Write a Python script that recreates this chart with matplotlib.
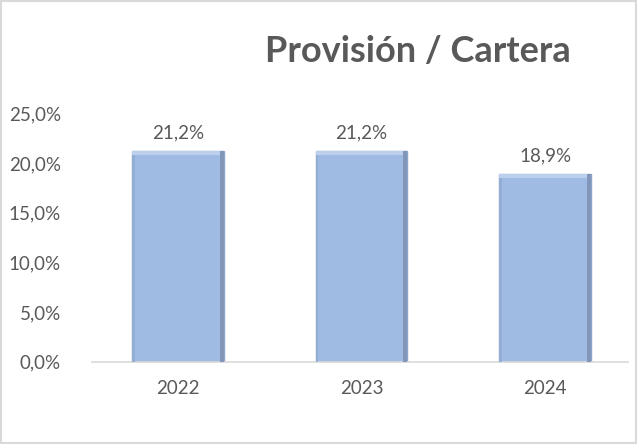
import matplotlib.pyplot as plt
from matplotlib.patches import Rectangle
from matplotlib.ticker import FuncFormatter

years = ['2022', '2023', '2024']
ratio = [21.2, 21.2, 18.9]
yticks = [0, 5, 10, 15, 20, 25]

plt.rcParams['font.family'] = ['Lato', 'DejaVu Sans']
grey = '#595959'

fig = plt.figure(figsize=(6.37, 4.44), dpi=100)
ax = fig.add_axes([0.135, 0.185, 0.865, 0.56])

x = range(len(years))
bars = ax.bar(x, ratio, width=0.5, color='#9fbbe4', edgecolor='#8ca5cb', linewidth=1.0, zorder=2)

# shaded edges on each bar for a bevel look
for b in bars:
    w = b.get_width()
    h = b.get_height()
    ax.add_patch(Rectangle((b.get_x() + w * 0.955, 0), w * 0.045, h,
                           color='#8196b8', zorder=3, linewidth=0))
    ax.add_patch(Rectangle((b.get_x(), 0), w * 0.03, h,
                           color='#93add4', zorder=3, linewidth=0))
    ax.add_patch(Rectangle((b.get_x(), h - 0.45), w * 0.955, 0.45,
                           color='#bcd0ee', zorder=3, linewidth=0))

for xi, v in zip(x, ratio):
    ax.text(xi, v + 1.0, f'{v:.1f}%'.replace('.', ','), ha='center', va='bottom',
            fontsize=13.5, color=grey)

ax.set_xlim(-0.5, 2.5)
ax.set_ylim(0, 25)
ax.set_yticks(yticks)
ax.yaxis.set_major_formatter(FuncFormatter(lambda v, p: f'{v:.1f}%'.replace('.', ',')))
ax.set_xticks(list(x))
ax.set_xticklabels(years)
ax.tick_params(axis='both', length=0, labelsize=13.5, labelcolor=grey)
ax.tick_params(axis='y', pad=18)
ax.tick_params(axis='x', pad=13)

for s in ['top', 'right', 'left']:
    ax.spines[s].set_visible(False)
ax.spines['bottom'].set_color('#d9d9d9')
ax.spines['bottom'].set_linewidth(1.2)
ax.spines['bottom'].set_bounds(-0.47, 2.45)

fig.text(0.656, 0.885, 'Provisión / Cartera', ha='center', va='center',
         fontsize=26, fontweight='bold', color=grey)

# outer chart border
fig.add_artist(Rectangle((0.002, 0.002), 0.996, 0.996, transform=fig.transFigure,
                         fill=False, edgecolor='#d9d9d9', linewidth=1.5))

fig.savefig('out.png', dpi=100)
